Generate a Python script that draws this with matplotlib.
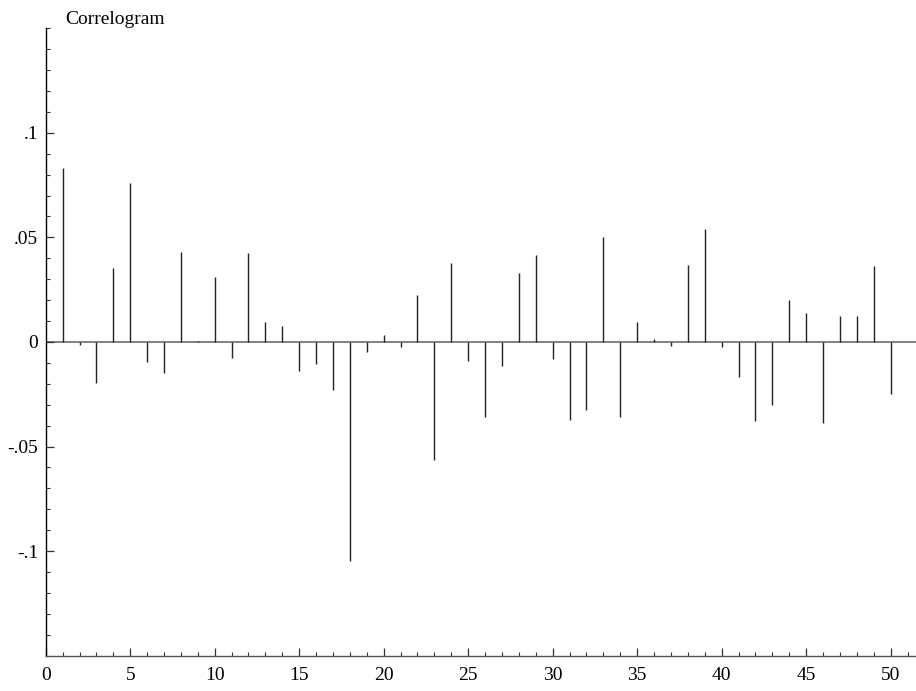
import matplotlib
matplotlib.use('Agg')
import matplotlib.pyplot as plt
from matplotlib.ticker import MultipleLocator

# autocorrelations by lag
lags = list(range(1, 51))
acf = [0.0833, -0.0013, -0.0196, 0.0354, 0.0762, -0.0096, -0.0148, 0.0432, 0.0005, 0.0313,
       -0.0077, 0.0427, 0.0096, 0.0076, -0.0141, -0.0107, -0.0231, -0.1045, -0.0048, 0.0032,
       -0.0026, 0.0225, -0.0563, 0.0376, -0.0091, -0.0360, -0.0115, 0.0329, 0.0415, -0.0081,
       -0.0375, -0.0327, 0.0501, -0.0357, 0.0094, 0.0013, -0.0018, 0.0370, 0.0542, -0.0024,
       -0.0169, -0.0378, -0.0301, 0.0203, 0.0139, -0.0386, 0.0126, 0.0123, 0.0362, -0.0249]

ytick_vals = [-0.1, -0.05, 0, 0.05, 0.1]
ytick_labels = ['-.1', '-.05', '0', '.05', '.1']
xtick_vals = [0, 5, 10, 15, 20, 25, 30, 35, 40, 45, 50]

plt.rcParams['font.family'] = ['Liberation Serif', 'DejaVu Serif']

fig = plt.figure(figsize=(9.16, 6.91), dpi=100)
ax = fig.add_axes([0.0499, 0.0511, 0.9501, 0.908])

ax.vlines(lags, 0, acf, colors='#222222', linewidth=1.0)
ax.axhline(0, color='#777777', linewidth=1.3, zorder=0)

ax.set_xlim(0, 51.5)
ax.set_ylim(-0.15, 0.15)

ax.set_xticks(xtick_vals)
ax.set_yticks(ytick_vals)
ax.set_yticklabels(ytick_labels)
ax.xaxis.set_minor_locator(MultipleLocator(1))
ax.yaxis.set_minor_locator(MultipleLocator(0.01))

ax.tick_params(which='major', direction='in', length=5.5, width=0.9, labelsize=14, color='#333333')
ax.tick_params(which='minor', direction='in', length=3, width=0.8, color='#333333')
ax.tick_params(axis='y', pad=5.5)
ax.tick_params(axis='x', pad=8.5)

for side in ['top', 'right']:
    ax.spines[side].set_visible(False)
ax.spines['left'].set_linewidth(1.0)
ax.spines['bottom'].set_linewidth(1.0)
ax.spines['bottom'].set_color('#555555')

fig.text(65 / 916, 1 - 24 / 691, 'Correlogram', fontsize=14, va='baseline', ha='left')

fig.savefig('out.png', dpi=100)
